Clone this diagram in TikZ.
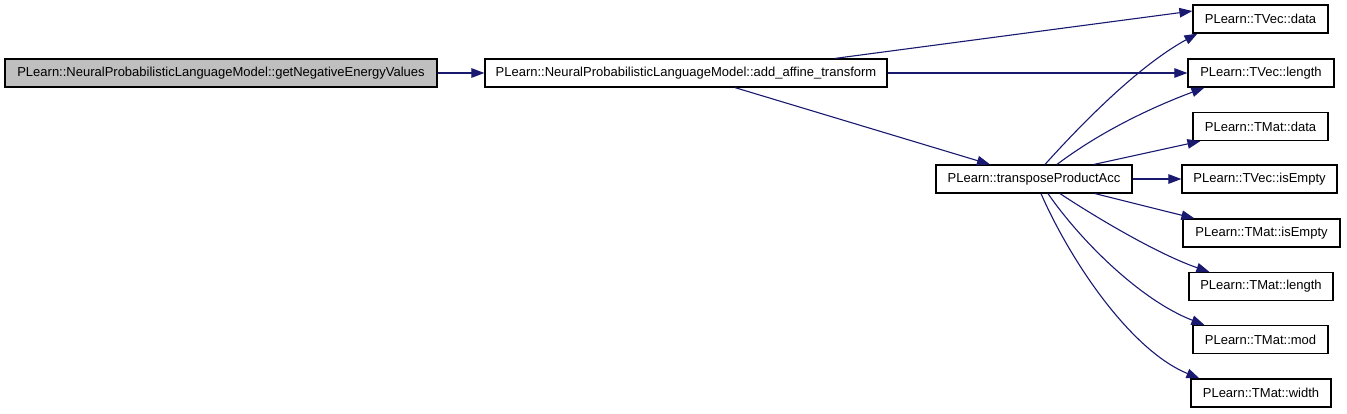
\documentclass[tikz,border=0pt]{standalone}
\usepackage{fontspec}
\setmainfont{Liberation Sans}
\usetikzlibrary{arrows.meta}
\definecolor{edgeblue}{HTML}{191970}
\definecolor{nodegray}{HTML}{BFBFBF}
\tikzset{
  fn/.style={draw=black, line width=1.2bp, rectangle, inner sep=0pt, minimum height=28bp,
    font=\fontsize{13bp}{15bp}\selectfont, anchor=center},
  root/.style={fn, fill=nodegray},
  call/.style={draw=edgeblue, line width=1.1bp, -{Triangle[length=13bp,width=9.5bp]}, fill=none},
}
\begin{document}
\begin{tikzpicture}[x=1bp,y=-1bp]
\useasboundingbox (0,0) rectangle (1347,413);
\node[root, minimum width=432bp] (neg) at (221,73) {PLearn::NeuralProbabilisticLanguageModel::getNegativeEnergyValues};
\node[fn, minimum width=402bp] (aff) at (686,73) {PLearn::NeuralProbabilisticLanguageModel::add\_affine\_transform};
\node[fn, minimum width=196bp] (tp) at (1034,179) {PLearn::transposeProductAcc};
\node[fn, minimum width=135bp] (tvd) at (1260.5,19) {PLearn::TVec::data};
\node[fn, minimum width=146bp] (tvl) at (1261,73) {PLearn::TVec::length};
\node[fn, minimum width=135bp] (tmd) at (1260.5,126.5) {PLearn::TMat::data};
\node[fn, minimum width=155bp] (tve) at (1259.5,179) {PLearn::TVec::isEmpty};
\node[fn, minimum width=157bp] (tme) at (1261.5,233) {PLearn::TMat::isEmpty};
\node[fn, minimum width=144bp] (tml) at (1261,286.5) {PLearn::TMat::length};
\node[fn, minimum width=135bp] (tmm) at (1260.5,339.5) {PLearn::TMat::mod};
\node[fn, minimum width=140bp] (tmw) at (1261,393) {PLearn::TMat::width};

\draw[call] (neg.east) -- (aff.west);
\draw[call] ([xshift=149bp]aff.north) -- ([yshift=8bp]tvd.west);
\draw[call] (aff.east) -- (tvl.west);
\draw[call] ([xshift=49bp]aff.south) -- ([xshift=-44bp]tp.north);
\draw[call] ([xshift=11bp]tp.north) .. controls (1085,120) and (1140,65) .. ([xshift=5bp]tvd.south west);
\draw[call] ([xshift=23bp]tp.north) .. controls (1100,132) and (1150,108) .. ([xshift=17bp]tvl.south west);
\draw[call] ([xshift=60bp]tp.north) -- ([xshift=8bp]tmd.south west);
\draw[call] (tp.east) -- (tve.west);
\draw[call] ([xshift=61bp]tp.south) -- ([xshift=12bp]tme.north west);
\draw[call] ([xshift=26bp]tp.south) .. controls (1100,220) and (1160,255) .. ([xshift=21bp]tml.north west);
\draw[call] ([xshift=14bp]tp.south) .. controls (1080,240) and (1140,300) .. ([xshift=12bp]tmm.north west);
\draw[call] ([xshift=7bp]tp.south) .. controls (1070,260) and (1130,350) .. ([xshift=9bp]tmw.north west);
\end{tikzpicture}
\end{document}
